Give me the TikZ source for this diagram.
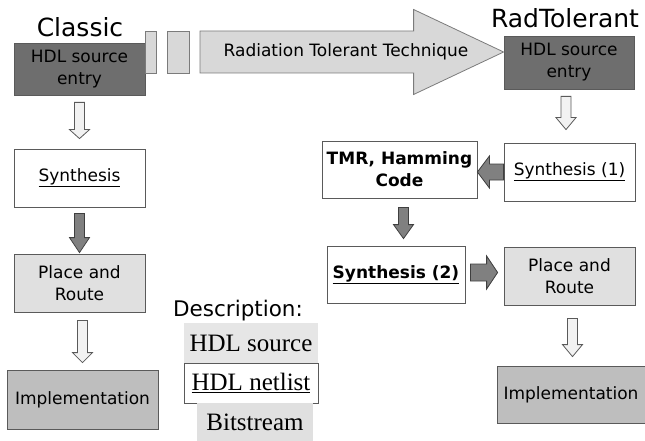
\documentclass[tikz,border=0pt]{standalone}
\usepackage{fontspec}
\setmainfont{Liberation Serif}
\setsansfont{DejaVu Sans}
\usetikzlibrary{calc}
\definecolor{LineClr}{HTML}{5A5A5A}
\definecolor{SrcClr}{HTML}{6E6E6E}
\definecolor{RouteClr}{HTML}{E0E0E0}
\definecolor{ImplClr}{HTML}{BEBEBE}
\definecolor{HollowClr}{HTML}{F2F2F2}
\definecolor{DarkClr}{HTML}{808080}
\definecolor{BandClr}{HTML}{D8D8D8}
\definecolor{LegendClr}{HTML}{E6E6E6}

% down block arrow: style, from, to, head length
\newcommand\varrow[4]{%
 \draw[#1] let \p1=(#2), \p2=(#3) in
 (\x1-5pt,\y1) -- (\x1-5pt,\y2+#4) -- (\x1-10pt,\y2+#4) -- (\x1,\y2)
 -- (\x1+10pt,\y2+#4) -- (\x1+5pt,\y2+#4) -- (\x1+5pt,\y1) -- cycle;}
% sideways block arrow: style, from, to, shaft half, head half, head length
\newcommand\harrow[6]{%
 \draw[#1] let \p1=(#2), \p2=(#3), \n1={sign(\x2-\x1)} in
 (\x1,\y1-#4) -- ({\x2-(\n1)*#6},\y1-#4) -- ({\x2-(\n1)*#6},\y1-#5) -- (\x2,\y1)
 -- ({\x2-(\n1)*#6},\y1+#5) -- ({\x2-(\n1)*#6},\y1+#4) -- (\x1,\y1+#4) -- cycle;}

\tikzset{
 stage/.style={draw=LineClr, line width=0.8pt, align=center, inner sep=2pt,
   font=\sffamily\fontsize{17}{22}\selectfont},
 title/.style={font=\sffamily\fontsize{25}{30}\selectfont},
 hollow/.style={draw=LineClr, line width=0.8pt, fill=HollowClr},
 dark/.style={draw=LineClr!70!black, line width=0.8pt, fill=DarkClr},
 band/.style={draw=LineClr!80, line width=0.8pt, fill=BandClr},
 legend/.style={inner sep=0pt, font=\rmfamily\fontsize{25}{29}\selectfont}
}

\begin{document}
\begin{tikzpicture}[x=1pt,y=-1pt]
\useasboundingbox (0,0) rectangle (645,441);

% titles
\node[title] (classic) at (80,27) {Classic};
\node[title] (radtol) at (565,18) {RadTolerant};

% classic flow
\node[stage, fill=SrcClr, minimum width=131pt, minimum height=52pt] (src1) at (79.5,69) {HDL source\\entry};
\node[stage, fill=white, minimum width=131pt, minimum height=58pt] (syn1) at (79.5,178) {\underline{Synthesis}};
\node[stage, fill=RouteClr, minimum width=131pt, minimum height=58pt] (pr1) at (79.5,283) {Place and\\Route};
\node[stage, fill=ImplClr, minimum width=151pt, minimum height=59pt] (impl1) at (82.5,399.5) {Implementation};

% rad tolerant flow
\node[stage, fill=SrcClr, minimum width=130pt, minimum height=53pt] (src2) at (569,62.5) {HDL source\\entry};
\node[stage, fill=white, minimum width=131pt, minimum height=58pt] (syn2a) at (569.5,172) {\underline{Synthesis (1)}};
\node[stage, fill=white, minimum width=155pt, minimum height=57pt, font=\sffamily\bfseries\fontsize{17}{22}\selectfont] (tmr) at (399.5,169.5) {TMR, Hamming\\Code};
\node[stage, fill=white, minimum width=138pt, minimum height=57pt, font=\sffamily\bfseries\fontsize{17}{22}\selectfont] (syn2b) at (396,274.5) {\underline{Synthesis (2)}};
\node[stage, fill=RouteClr, minimum width=131pt, minimum height=58pt] (pr2) at (569.5,276) {Place and\\Route};
\node[stage, fill=ImplClr, minimum width=148pt, minimum height=57pt] (impl2) at (571,394.5) {Implementation};

% technique arrow
\draw[band] (145,31) rectangle (156,73);
\draw[band] (167,31) rectangle (189,73);
\coordinate (tail) at (200,52);
\harrow{band}{tail}{src2.west |- tail}{21pt}{42.5pt}{90pt}
\node[font=\sffamily\fontsize{17}{22}\selectfont] (rtt) at (346,52) {Radiation Tolerant Technique};

% block arrows
\varrow{hollow}{[yshift=-7pt]src1.south}{[yshift=10pt]syn1.north}{9pt}
\varrow{dark}{[yshift=-6pt]syn1.south}{[yshift=1pt]pr1.north}{15pt}
\varrow{hollow}{[xshift=3pt,yshift=-8pt]pr1.south}{[yshift=7pt]impl1.north}{10pt}
\varrow{hollow}{[xshift=-3pt,yshift=-7pt]src2.south}{[yshift=13pt]syn2a.north}{12pt}
\harrow{dark}{syn2a.west}{tmr.east}{8pt}{16pt}{12pt}
\varrow{dark}{[xshift=4pt,yshift=-9pt]tmr.south}{[yshift=7pt]syn2b.north}{14pt}
\harrow{dark}{[xshift=5pt,yshift=2pt]syn2b.east}{[xshift=-6pt]pr2.west}{8.5pt}{16.5pt}{11pt}
\varrow{hollow}{[xshift=3pt,yshift=-13pt]pr2.south}{[yshift=9pt]impl2.north}{12pt}

% description
\node[anchor=base, font=\sffamily\fontsize{21.5}{26}\selectfont] (desc) at (238,316) {Description:};
\node[legend, fill=LegendClr, minimum width=134pt, minimum height=40pt] (lsrc) at (251,343) {HDL source};
\node[legend, draw=LineClr, line width=0.8pt, fill=white, minimum width=134pt, minimum height=40pt] (lnet) at (251,383) {\underline{HDL netlist}};
\node[legend, fill=RouteClr, minimum width=116pt, minimum height=38pt] (lbit) at (255,422) {Bitstream};

\end{tikzpicture}
\end{document}
